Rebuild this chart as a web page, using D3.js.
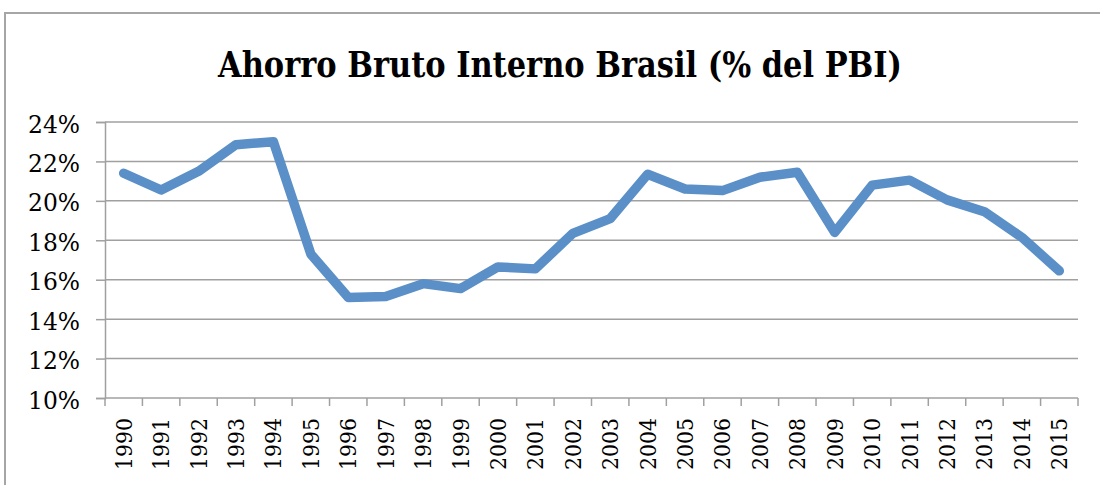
<!DOCTYPE html>
<html>
<head>
<meta charset="utf-8">
<script src="https://cdn.jsdelivr.net/npm/d3@7"></script>
<style>
  html, body { margin: 0; padding: 0; background: #fff; }
  svg { display: block; }
</style>
</head>
<body>
<svg id="chart" width="1100" height="485"></svg>
<script>
const title = "Ahorro Bruto Interno Brasil (% del PBI)";
const years = ["1990","1991","1992","1993","1994","1995","1996","1997","1998","1999","2000","2001","2002","2003","2004","2005","2006","2007","2008","2009","2010","2011","2012","2013","2014","2015"];
const ahorro = [21.4, 20.55, 21.5, 22.85, 23.0, 17.3, 15.1, 15.15, 15.8, 15.55, 16.65, 16.55, 18.35, 19.1, 21.35, 20.6, 20.52, 21.2, 21.45, 18.4, 20.8, 21.05, 20.05, 19.45, 18.15, 16.45];
const yTicks = [10, 12, 14, 16, 18, 20, 22, 24];

(function () {
const svg = d3.select("#chart");
const W = 1100, H = 485;
const pLeft = 105, pRight = 1078, pTop = 122, pBottom = 398;
const serif = "'DejaVu Serif', 'Liberation Serif', serif";

// outer frame
svg.append("path")
  .attr("d", `M5,${H} L5,13 L${W},13`)
  .attr("fill", "none").attr("stroke", "#a6a6a6").attr("stroke-width", 2);

// title
svg.append("text")
  .attr("x", 218).attr("y", 77)
  .attr("font-family", serif)
  .attr("font-weight", "bold")
  .attr("font-size", 35)
  .attr("textLength", 684)
  .attr("lengthAdjust", "spacingAndGlyphs")
  .attr("fill", "#000")
  .text(title);

const x = d3.scaleBand().domain(years).range([pLeft, pRight]).paddingInner(0).paddingOuter(0);
const y = d3.scaleLinear().domain([10, 24]).range([pBottom, pTop]);

// gridlines
svg.append("g").selectAll("line").data(yTicks.filter(d => d !== 10)).join("line")
  .attr("x1", pLeft).attr("x2", pRight)
  .attr("y1", d => y(d)).attr("y2", d => y(d))
  .attr("stroke", "#a0a0a0").attr("stroke-width", 1.5);

// y axis
const yAxis = d3.axisLeft(y).tickValues(yTicks).tickFormat(d => d + "%").tickSize(9).tickPadding(25);
const gy = svg.append("g").attr("transform", `translate(${pLeft},0)`).call(yAxis);
gy.select(".domain").attr("stroke", "#a0a0a0").attr("stroke-width", 1.5);
gy.selectAll(".tick line").attr("stroke", "#a0a0a0").attr("stroke-width", 1.5);
gy.selectAll(".tick text")
  .attr("font-family", serif)
  .attr("font-size", 24).attr("dy", "0.42em").attr("fill", "#000")
  .attr("text-anchor", "start").attr("x", 28 - pLeft)
  .attr("textLength", 52).attr("lengthAdjust", "spacingAndGlyphs");

// x axis line and ticks at band edges
const edges = years.map(d => x(d)).concat([pRight]);
svg.append("line").attr("x1", pLeft).attr("x2", pRight).attr("y1", pBottom).attr("y2", pBottom)
  .attr("stroke", "#a0a0a0").attr("stroke-width", 1.5);
svg.append("g").selectAll("line").data(edges).join("line")
  .attr("x1", d => d).attr("x2", d => d).attr("y1", pBottom).attr("y2", pBottom + 8)
  .attr("stroke", "#a0a0a0").attr("stroke-width", 1.5);

// x labels rotated
svg.append("g").selectAll("text").data(years).join("text")
  .attr("transform", d => `translate(${x(d) + x.bandwidth() / 2 + 8},470) rotate(-90)`)
  .attr("text-anchor", "start")
  .attr("font-family", serif)
  .attr("font-size", 22).attr("fill", "#000")
  .attr("textLength", 52).attr("lengthAdjust", "spacingAndGlyphs")
  .text(d => d);

// line
const line = d3.line()
  .x((d, i) => x(years[i]) + x.bandwidth() / 2)
  .y(d => y(d));
svg.append("path").datum(ahorro)
  .attr("d", line)
  .attr("fill", "none")
  .attr("stroke", "#5b8fc8")
  .attr("stroke-width", 9.5)
  .attr("stroke-linejoin", "round")
  .attr("stroke-linecap", "round");
})();
</script>
</body>
</html>
